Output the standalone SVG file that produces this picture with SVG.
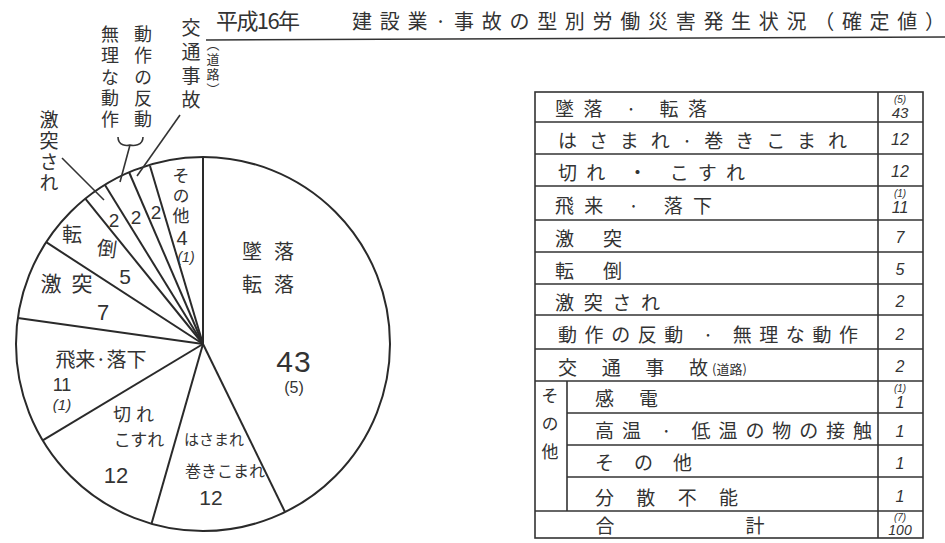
<svg xmlns="http://www.w3.org/2000/svg" width="945" height="543" viewBox="0 0 945 543">
<style>
text{font-family:"Noto Sans CJK JP","Noto Sans",sans-serif;fill:#333;}
.ln{stroke:#333;stroke-width:1.6;fill:none;}
.pie{stroke:#2a2a2a;stroke-width:2;fill:none;}
.tb{stroke:#333;stroke-width:1.6;fill:none;}
.c{text-anchor:middle;}
.v{writing-mode:vertical-rl;text-anchor:start;}
.num{font-family:"Liberation Sans",sans-serif;font-style:italic;text-anchor:middle;}
.pn{font-family:"Liberation Sans",sans-serif;text-anchor:middle;}
</style>
<rect width="945" height="543" fill="#fff"/>
<g id="title">
<text x="216" y="29" font-size="22" textLength="84" lengthAdjust="spacing">平成16年</text>
<text x="352" y="29" font-size="20" textLength="593" lengthAdjust="spacing">建設業·事故の型別労働災害発生状況（確定値）</text>
<line class="ln" x1="206" y1="40" x2="945" y2="37"/>
</g>
<g id="pie">
<circle class="pie" cx="203" cy="344" r="187"/>
<line class="pie" x1="203" y1="344" x2="203" y2="157"/>
<line class="pie" x1="203" y1="344" x2="285" y2="512"/>
<line class="pie" x1="203" y1="344" x2="151.5" y2="523.8"/>
<line class="pie" x1="203" y1="344" x2="42.7" y2="440.3"/>
<line class="pie" x1="203" y1="344" x2="17.8" y2="318"/>
<line class="pie" x1="203" y1="344" x2="46.2" y2="242.2"/>
<line class="pie" x1="203" y1="344" x2="85.3" y2="198.7"/>
<line class="pie" x1="203" y1="344" x2="105" y2="185"/>
<line class="pie" x1="203" y1="344" x2="129" y2="172"/>
<line class="pie" x1="203" y1="344" x2="150" y2="166"/>
</g>
<g id="connectors">
<line class="ln" x1="62" y1="158" x2="104" y2="200"/>
<path class="ln" d="M118,137 C118,146 127,146 130,145 C133,146 143,146 143,137"/>
<line class="ln" x1="130" y1="145" x2="120" y2="182"/>
<line class="ln" x1="180" y1="115" x2="137" y2="176"/>
</g>
<g id="slice-tsuiraku">
<text class="c" x="252" y="259" font-size="20">墜</text><text class="c" x="284" y="259" font-size="20">落</text>
<text class="c" x="252" y="292" font-size="20">転</text><text class="c" x="284" y="292" font-size="20">落</text>
<text class="pn" x="294" y="372" font-size="30" letter-spacing="1">43</text>
<text class="pn" x="294" y="393" font-size="16">(5)</text>
</g>
<g id="slice-hasamare">
<text class="c" x="214" y="445" font-size="15">はさまれ</text>
<text class="c" x="225" y="477" font-size="16">巻きこまれ</text>
<text class="pn" x="211" y="505" font-size="21">12</text>
</g>
<g id="slice-kire">
<text class="c" x="136" y="421" font-size="18" letter-spacing="5">切れ</text>
<text class="c" x="139" y="446" font-size="17">こすれ</text>
<text class="pn" x="116" y="483" font-size="22">12</text>
</g>
<g id="slice-hirai">
<text class="c" x="101" y="367" font-size="20">飛来·落下</text>
<text class="pn" x="62" y="391" font-size="18">11</text>
<text class="num" x="62" y="410" font-size="15">(1)</text>
</g>
<g id="slice-gekitotsu">
<text class="c" x="51" y="291" font-size="21">激</text><text class="c" x="82" y="291" font-size="21">突</text>
<text class="pn" x="103" y="320" font-size="22">7</text>
</g>
<g id="slice-tentou">
<text class="c" x="72" y="242" font-size="20">転</text>
<text class="c" x="107" y="256" font-size="20" transform="rotate(8 107 248)">倒</text>
<text class="pn" x="125" y="284" font-size="21">5</text>
</g>
<g id="slice-small">
<text class="pn" x="114" y="227" font-size="19">2</text>
<text class="pn" x="136" y="224" font-size="19">2</text>
<text class="pn" x="156" y="219" font-size="19">2</text>
</g>
<g id="slice-sonota">
<text class="v" x="181" y="167" font-size="17" letter-spacing="3">その他</text>
<text class="pn" x="182" y="245" font-size="20">4</text>
<text class="num" x="186" y="262" font-size="14">(1)</text>
</g>
<g id="label-gekitotsusare">
<text class="v" x="49" y="110" font-size="19" letter-spacing="2">激突され</text>
</g>
<g id="label-murina">
<text class="v" x="110" y="25" font-size="18" letter-spacing="3.4">無理な動作</text>
</g>
<g id="label-dousa">
<text class="v" x="143" y="25" font-size="18" letter-spacing="3.4">動作の反動</text>
</g>
<g id="label-koutsuu">
<text class="v" x="191" y="18" font-size="19" letter-spacing="5">交通事故</text>
<text class="v" x="213" y="38" font-size="13" letter-spacing="2">（道路）</text>
</g>
<g id="table">
<rect class="tb" x="535" y="92" width="388" height="446"/>
<line class="tb" x1="878" y1="92" x2="878" y2="538"/>
<line class="tb" x1="535" y1="122" x2="923" y2="122"/>
<line class="tb" x1="535" y1="154" x2="923" y2="154"/>
<line class="tb" x1="535" y1="186" x2="923" y2="186"/>
<line class="tb" x1="535" y1="220" x2="923" y2="220"/>
<line class="tb" x1="535" y1="252" x2="923" y2="252"/>
<line class="tb" x1="535" y1="284" x2="923" y2="284"/>
<line class="tb" x1="535" y1="315" x2="923" y2="315"/>
<line class="tb" x1="535" y1="349" x2="923" y2="349"/>
<line class="tb" x1="535" y1="381" x2="923" y2="381"/>
<line class="tb" x1="567" y1="413" x2="923" y2="413"/>
<line class="tb" x1="567" y1="445" x2="923" y2="445"/>
<line class="tb" x1="567" y1="477" x2="923" y2="477"/>
<line class="tb" x1="535" y1="511" x2="923" y2="511"/>
<line class="tb" x1="567" y1="381" x2="567" y2="511"/>
<g id="table-labels">
<text x="555" y="116" font-size="19" textLength="152" lengthAdjust="spacing">墜落 · 転落</text>
<text x="558" y="148" font-size="19" textLength="289" lengthAdjust="spacing">はさまれ·巻きこまれ</text>
<text x="558" y="180" font-size="19" textLength="187" lengthAdjust="spacing">切れ ・ こすれ</text>
<text x="555" y="213" font-size="19" textLength="157" lengthAdjust="spacing">飛来 · 落下</text>
<text x="555" y="246" font-size="19" textLength="67" lengthAdjust="spacing">激突</text>
<text x="555" y="278" font-size="19" textLength="67" lengthAdjust="spacing">転倒</text>
<text x="555" y="310" font-size="19" textLength="105" lengthAdjust="spacing">激突され</text>
<text x="558" y="342" font-size="19" textLength="300" lengthAdjust="spacing">動作の反動 · 無理な動作</text>
<text x="558" y="375" font-size="19" textLength="150" lengthAdjust="spacing">交通事故</text>
<text x="712" y="374" font-size="13">(道路)</text>
<text x="595" y="406" font-size="19" textLength="63" lengthAdjust="spacing">感電</text>
<text x="595" y="438" font-size="19" textLength="277" lengthAdjust="spacing">高温 · 低温の物の接触</text>
<text x="595" y="470" font-size="19" textLength="97" lengthAdjust="spacing">その他</text>
<text x="595" y="505" font-size="19" textLength="143" lengthAdjust="spacing">分散不能</text>
<text class="c" x="605" y="533" font-size="19">合</text>
<text class="c" x="755" y="533" font-size="19">計</text>
<text class="v" x="550" y="387" font-size="17" letter-spacing="11">その他</text>
</g>
<g id="table-values">
<text class="num" x="900" y="103" font-size="10">(5)</text>
<text class="num" x="900" y="118" font-size="15">43</text>
<text class="num" x="900" y="145" font-size="16">12</text>
<text class="num" x="900" y="177" font-size="16">12</text>
<text class="num" x="900" y="197" font-size="10">(1)</text>
<text class="num" x="900" y="213" font-size="16">11</text>
<text class="num" x="900" y="243" font-size="16">7</text>
<text class="num" x="900" y="275" font-size="16">5</text>
<text class="num" x="900" y="307" font-size="16">2</text>
<text class="num" x="900" y="340" font-size="16">2</text>
<text class="num" x="900" y="372" font-size="16">2</text>
<text class="num" x="900" y="392" font-size="10">(1)</text>
<text class="num" x="900" y="408" font-size="16">1</text>
<text class="num" x="900" y="437" font-size="16">1</text>
<text class="num" x="900" y="469" font-size="16">1</text>
<text class="num" x="900" y="502" font-size="16">1</text>
<text class="num" x="900" y="521" font-size="10">(7)</text>
<text class="num" x="900" y="535" font-size="14">100</text>
</g>
</g>
</svg>
